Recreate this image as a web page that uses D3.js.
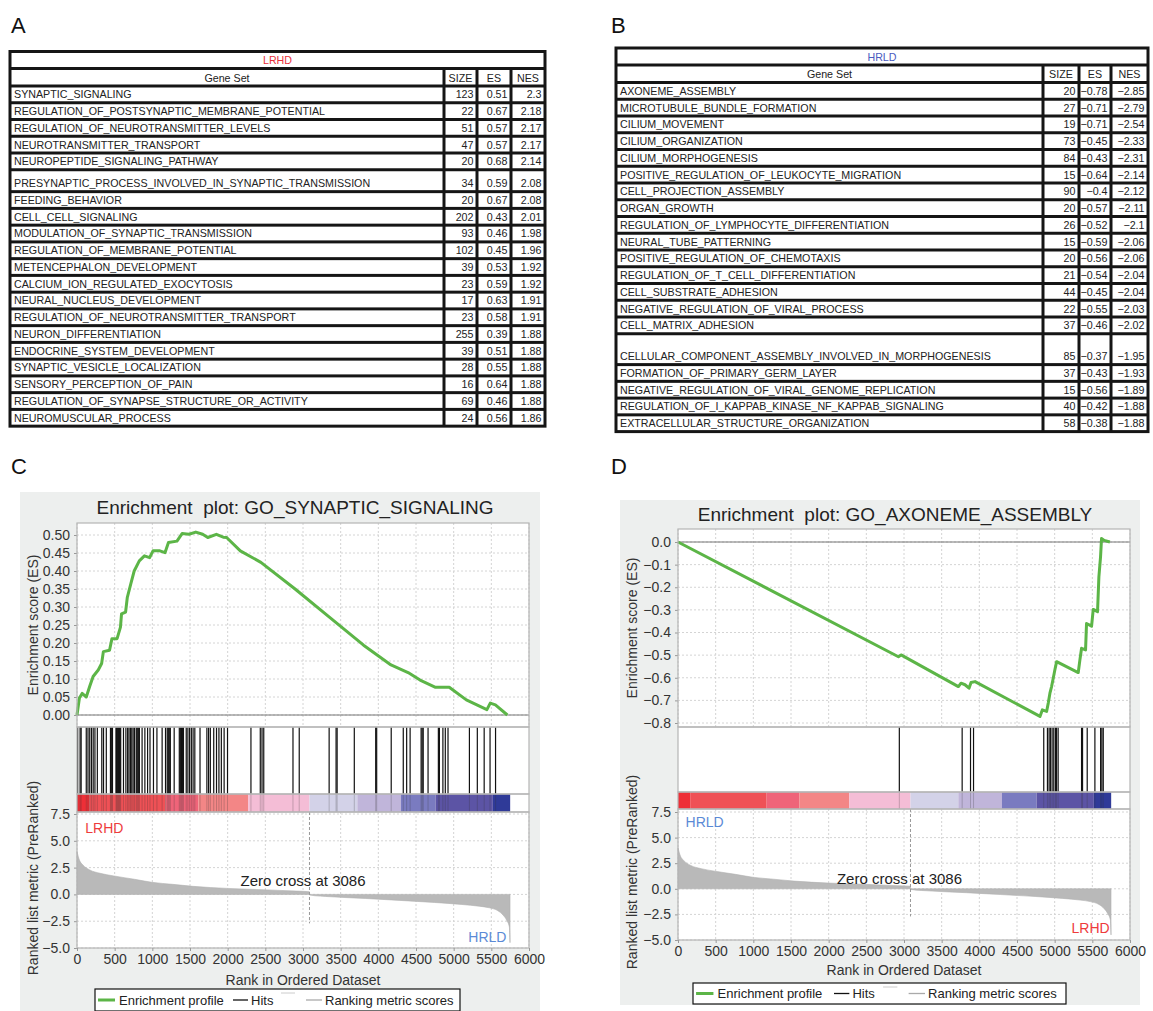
<!DOCTYPE html>
<html>
<head>
<meta charset="utf-8">
<script src="https://cdn.jsdelivr.net/npm/d3@7"></script>
<style>
  body { margin: 0; background: #fff; }
  svg { display: block; font-family: "Liberation Sans", Arial, Helvetica, sans-serif; }
</style>
</head>
<body>
<svg width="1153" height="1011"></svg>
<script>
// ---------- Table A : LRHD ----------
const lrhdSets = [
  "SYNAPTIC_SIGNALING", "REGULATION_OF_POSTSYNAPTIC_MEMBRANE_POTENTIAL",
  "REGULATION_OF_NEUROTRANSMITTER_LEVELS", "NEUROTRANSMITTER_TRANSPORT",
  "NEUROPEPTIDE_SIGNALING_PATHWAY", "PRESYNAPTIC_PROCESS_INVOLVED_IN_SYNAPTIC_TRANSMISSION",
  "FEEDING_BEHAVIOR", "CELL_CELL_SIGNALING", "MODULATION_OF_SYNAPTIC_TRANSMISSION",
  "REGULATION_OF_MEMBRANE_POTENTIAL", "METENCEPHALON_DEVELOPMENT",
  "CALCIUM_ION_REGULATED_EXOCYTOSIS", "NEURAL_NUCLEUS_DEVELOPMENT",
  "REGULATION_OF_NEUROTRANSMITTER_TRANSPORT", "NEURON_DIFFERENTIATION",
  "ENDOCRINE_SYSTEM_DEVELOPMENT", "SYNAPTIC_VESICLE_LOCALIZATION",
  "SENSORY_PERCEPTION_OF_PAIN", "REGULATION_OF_SYNAPSE_STRUCTURE_OR_ACTIVITY",
  "NEUROMUSCULAR_PROCESS"
];
const lrhdSize = [123, 22, 51, 47, 20, 34, 20, 202, 93, 102, 39, 23, 17, 23, 255, 39, 28, 16, 69, 24];
const lrhdES = [0.51, 0.67, 0.57, 0.57, 0.68, 0.59, 0.67, 0.43, 0.46, 0.45, 0.53, 0.59, 0.63, 0.58, 0.39, 0.51, 0.55, 0.64, 0.46, 0.56];
const lrhdNES = [2.3, 2.18, 2.17, 2.17, 2.14, 2.08, 2.08, 2.01, 1.98, 1.96, 1.92, 1.92, 1.91, 1.91, 1.88, 1.88, 1.88, 1.88, 1.88, 1.86];

// ---------- Table B : HRLD ----------
const hrldSets = [
  "AXONEME_ASSEMBLY", "MICROTUBULE_BUNDLE_FORMATION", "CILIUM_MOVEMENT",
  "CILIUM_ORGANIZATION", "CILIUM_MORPHOGENESIS", "POSITIVE_REGULATION_OF_LEUKOCYTE_MIGRATION",
  "CELL_PROJECTION_ASSEMBLY", "ORGAN_GROWTH", "REGULATION_OF_LYMPHOCYTE_DIFFERENTIATION",
  "NEURAL_TUBE_PATTERNING", "POSITIVE_REGULATION_OF_CHEMOTAXIS",
  "REGULATION_OF_T_CELL_DIFFERENTIATION", "CELL_SUBSTRATE_ADHESION",
  "NEGATIVE_REGULATION_OF_VIRAL_PROCESS", "CELL_MATRIX_ADHESION",
  "CELLULAR_COMPONENT_ASSEMBLY_INVOLVED_IN_MORPHOGENESIS", "FORMATION_OF_PRIMARY_GERM_LAYER",
  "NEGATIVE_REGULATION_OF_VIRAL_GENOME_REPLICATION",
  "REGULATION_OF_I_KAPPAB_KINASE_NF_KAPPAB_SIGNALING", "EXTRACELLULAR_STRUCTURE_ORGANIZATION"
];
const hrldSize = [20, 27, 19, 73, 84, 15, 90, 20, 26, 15, 20, 21, 44, 22, 37, 85, 37, 15, 40, 58];
const hrldES = [-0.78, -0.71, -0.71, -0.45, -0.43, -0.64, -0.4, -0.57, -0.52, -0.59, -0.56, -0.54, -0.45, -0.55, -0.46, -0.37, -0.43, -0.56, -0.42, -0.38];
const hrldNES = [-2.85, -2.79, -2.54, -2.33, -2.31, -2.14, -2.12, -2.11, -2.1, -2.06, -2.06, -2.04, -2.04, -2.03, -2.02, -1.95, -1.93, -1.89, -1.88, -1.88];

// ---------- ranked list metric (same list in C and D) ----------
const metricRank  = [0, 32, 78, 169, 306, 489, 764, 992, 1267, 1541, 1998, 2456, 2913, 3085, 3087, 3370, 3828, 4285, 4742, 5108, 5337, 5474, 5588, 5657, 5703, 5739, 5748];
const metricValue = [4.0, 3.2, 2.75, 2.28, 1.97, 1.72, 1.41, 1.13, 0.94, 0.75, 0.56, 0.44, 0.31, 0.25, -0.06, -0.22, -0.38, -0.56, -0.75, -0.94, -1.1, -1.25, -1.53, -1.94, -2.4, -3.03, -4.5];

// colour bar bins along the rank
const barStart = [0, 168, 1177, 1610, 2274, 3086, 3721, 4300, 4760, 5520];
const barEnd   = [168, 1177, 1610, 2274, 3086, 3721, 4300, 4760, 5520, 5750];
const barColor = ["#ee2f37", "#ef5156", "#ef6479", "#f38686", "#f4bdd6", "#d3d2e8", "#c0b5da", "#7a7bc0", "#5c54a5", "#2f3a98"];

// ---------- C : GO_SYNAPTIC_SIGNALING ----------
const synHits = [9, 41, 55, 123, 146, 169, 192, 215, 238, 270, 329, 352, 389, 444, 453, 462, 471,
  517, 526, 535, 544, 553, 562, 571, 580, 617, 649, 672, 690, 709, 727, 745, 764, 787, 800, 814, 828,
  864, 901, 937, 969, 1015, 1061, 1130, 1175, 1198, 1212, 1225, 1239, 1290, 1358, 1372, 1386, 1399, 1413,
  1450, 1472, 1495, 1518, 1541, 1564, 1633, 1724, 1747, 1770, 1815, 1852, 1884, 1916, 1953, 1998,
  2309, 2433, 2456, 2479, 2867, 2950, 3347, 3439, 3453, 3681, 3965, 3978, 4171, 4331, 4376, 4422,
  4568, 4582, 4596, 4660, 4797, 4811, 4857, 4889, 4925, 5209, 5314, 5405, 5483, 5556];
const synRank = [0, 32, 68, 123, 168, 214, 282, 327, 350, 432, 464, 532, 577, 591, 645, 668, 714, 759, 827, 895, 964,
  1009, 1100, 1168, 1214, 1327, 1395, 1486, 1577, 1668, 1736, 1850, 1941, 1986, 2168, 2441, 2895, 3350, 3804,
  4168, 4395, 4554, 4759, 4941, 5168, 5350, 5441, 5486, 5554, 5713];
const synES = [0, 0.047, 0.06, 0.05, 0.079, 0.107, 0.125, 0.143, 0.176, 0.18, 0.212, 0.212, 0.244, 0.281, 0.286, 0.327, 0.364, 0.40, 0.428, 0.442, 0.437,
  0.456, 0.456, 0.451, 0.479, 0.483, 0.504, 0.502, 0.508, 0.502, 0.493, 0.502, 0.494, 0.493, 0.456, 0.424, 0.35, 0.272, 0.194,
  0.139, 0.118, 0.097, 0.077, 0.077, 0.042, 0.024, 0.015, 0.033, 0.028, 0];

// ---------- D : GO_AXONEME_ASSEMBLY ----------
const axoHits = [2938, 3772, 3883, 3923, 4855, 4904, 4926, 4944, 4966, 4988, 5010, 5024, 5046, 5357, 5370, 5432, 5534, 5610, 5627, 5645];
const axoRank = [0, 2926, 2961, 3722, 3757, 3810, 3863, 3890, 3943, 4805, 4836, 4893, 4915, 4937, 4959, 4981, 5003, 5026,
  5313, 5335, 5357, 5410, 5423, 5490, 5512, 5569, 5587, 5609, 5622, 5658, 5733];
const axoES = [0, -0.507, -0.499, -0.639, -0.624, -0.631, -0.646, -0.621, -0.617, -0.771, -0.742, -0.749, -0.712, -0.668, -0.639, -0.602, -0.565, -0.529,
  -0.577, -0.521, -0.47, -0.477, -0.36, -0.372, -0.298, -0.308, -0.154, -0.066, 0.015, 0.007, 0];

// ---------- ticks ----------
const xTicks = [0, 500, 1000, 1500, 2000, 2500, 3000, 3500, 4000, 4500, 5000, 5500, 6000];
const esTicksC = [0, 0.05, 0.1, 0.15, 0.2, 0.25, 0.3, 0.35, 0.4, 0.45, 0.5];
const esTicksD = [0, -0.1, -0.2, -0.3, -0.4, -0.5, -0.6, -0.7, -0.8];
const metricTicks = [-5, -2.5, 0, 2.5, 5, 7.5];

const svg = d3.select("svg");
const red = "#ee3b3b", blue = "#5b8ad6";
const minus = v => String(v).replace("-", "\u2212");

// panel letters
[["A", 11, 33], ["B", 611, 33], ["C", 11, 474], ["D", 611, 474]].forEach(([t, x, y]) => {
  svg.append("text").attr("x", x).attr("y", y).style("font-size", "22px").attr("fill", "#111").text(t);
});

// ---------- tables ----------
function drawTable(o) {
  const g = svg.append("g");
  const colX = [o.x, o.cols[0], o.cols[1], o.cols[2], o.x + o.w];
  const rows = [];
  let y = o.top;
  rows.push({ y, h: 17, kind: "title" }); y += 17;
  rows.push({ y, h: 17.5, kind: "head" }); y += 17.5;
  o.names.forEach((n, i) => {
    const h = i === o.tallRow ? o.tallH : 16.75;
    rows.push({ y, h, kind: "data", i });
    y += h;
  });
  g.append("rect").attr("x", o.x - 1.5).attr("y", o.top - 1.5)
    .attr("width", o.w + 3).attr("height", y - o.top + 3).attr("fill", "#151515");
  const cell = (x0, x1, r) => g.append("rect")
    .attr("x", x0 + 1.5).attr("y", r.y + 1.5)
    .attr("width", x1 - x0 - 3).attr("height", r.h - 3).attr("fill", "#fff");
  const txt = (x, r, s, anchor, color) => g.append("text")
    .attr("x", x).attr("y", r.y + r.h - 4.5).attr("text-anchor", anchor)
    .style("font-size", "10.7px").attr("fill", color || "#222").text(s);

  rows.forEach(r => {
    if (r.kind === "title") {
      cell(o.x, o.x + o.w, r);
      txt(o.x + o.w / 2, r, o.title, "middle", o.titleColor);
      return;
    }
    for (let c = 0; c < 4; c++) cell(colX[c], colX[c + 1], r);
    if (r.kind === "head") {
      ["Gene Set", "SIZE", "ES", "NES"].forEach((s, c) => txt((colX[c] + colX[c + 1]) / 2, r, s, "middle"));
    } else {
      txt(colX[0] + 4, r, o.names[r.i], "start");
      txt(colX[2] - 3.5, r, o.size[r.i], "end");
      txt(colX[3] - 3.5, r, minus(o.es[r.i]), "end");
      txt(colX[4] - 3.5, r, minus(o.nes[r.i]), "end");
    }
  });
}

drawTable({ x: 10, w: 535, top: 51.5, cols: [444, 477, 511], title: "LRHD", titleColor: "#e8303a",
  names: lrhdSets, size: lrhdSize, es: lrhdES, nes: lrhdNES, tallRow: 5, tallH: 21.9 });
drawTable({ x: 616, w: 532, top: 48, cols: [1043, 1079, 1111], title: "HRLD", titleColor: "#4a5ac0",
  names: hrldSets, size: hrldSize, es: hrldES, nes: hrldNES, tallRow: 15, tallH: 30.85 });

// ---------- GSEA enrichment plots ----------
function drawGsea(p) {
  const g = svg.append("g");
  g.append("rect").attr("x", p.bg[0]).attr("y", p.bg[1]).attr("width", p.bg[2]).attr("height", p.bg[3]).attr("fill", "#edefee");

  g.append("text").attr("x", p.titleX).attr("y", p.titleY).attr("text-anchor", "middle")
    .style("font-size", "19px").style("white-space", "pre").attr("fill", "#222").text(p.title);

  const x = d3.scaleLinear().domain([0, 6000]).range([p.x0, p.x1]);
  const yEs = d3.scaleLinear().domain(p.esDom).range(p.esRange);
  const yMet = d3.scaleLinear().domain([-5, 7.5]).range(p.metRange);
  const w = p.x1 - p.x0;

  // white plot areas
  g.append("rect").attr("x", p.x0).attr("y", p.esTop).attr("width", w).attr("height", p.metBottom - p.esTop).attr("fill", "#fff");

  const grid = "#d4d4d4";
  // ES grid
  const esG = g.append("g");
  xTicks.forEach(t => esG.append("line").attr("x1", x(t)).attr("x2", x(t)).attr("y1", p.esTop).attr("y2", p.esBottom)
    .attr("stroke", grid).attr("stroke-dasharray", "2,2"));
  p.esTicks.forEach(t => esG.append("line").attr("x1", p.x0).attr("x2", p.x1).attr("y1", yEs(t)).attr("y2", yEs(t))
    .attr("stroke", grid).attr("stroke-dasharray", "2,2"));
  // zero line
  g.append("line").attr("x1", p.x0).attr("x2", p.x1).attr("y1", yEs(0)).attr("y2", yEs(0)).attr("stroke", "#777").attr("stroke-width", 1);

  // ES axis
  g.append("g").attr("transform", `translate(${p.x0},0)`)
    .call(d3.axisLeft(yEs).tickValues(p.esTicks).tickFormat(d3.format(p.esFmt)).tickSize(3).tickPadding(4))
    .call(a => a.select(".domain").remove())
    .call(a => a.selectAll("text").style("font-size", "14px").attr("fill", "#333").style("font-family", "inherit"))
    .call(a => a.selectAll("line").attr("stroke", "#999"));

  // ES line
  const esPts = p.esRank.map((r, i) => [r, p.esVal[i]]);
  g.append("path").datum(esPts)
    .attr("d", d3.line().x(d => x(d[0])).y(d => yEs(d[1])))
    .attr("fill", "none").attr("stroke", "#5cb547").attr("stroke-width", 3).attr("stroke-linejoin", "round");

  // metric grid
  xTicks.forEach(t => g.append("line").attr("x1", x(t)).attr("x2", x(t)).attr("y1", p.barBottom).attr("y2", p.metBottom)
    .attr("stroke", grid).attr("stroke-dasharray", "2,2"));
  metricTicks.forEach(t => g.append("line").attr("x1", p.x0).attr("x2", p.x1).attr("y1", yMet(t)).attr("y2", yMet(t))
    .attr("stroke", grid).attr("stroke-dasharray", "2,2"));

  // metric area
  const metPts = metricRank.map((r, i) => [r, metricValue[i]]);
  g.append("path").datum(metPts)
    .attr("d", d3.area().x(d => x(d[0])).y0(yMet(0)).y1(d => yMet(d[1])).curve(d3.curveMonotoneX))
    .attr("fill", "#b9b9b9").attr("stroke", "#b0b0b0").attr("stroke-width", 0.6);

  // zero cross
  g.append("line").attr("x1", x(3086)).attr("x2", x(3086)).attr("y1", p.barBottom).attr("y2", yMet(-2.7))
    .attr("stroke", "#999").attr("stroke-dasharray", "3,2");
  g.append("text").attr("x", x(p.zeroTextRank)).attr("y", yMet(p.zeroTextVal)).attr("dy", "0.35em")
    .attr("text-anchor", "middle").style("font-size", "15px").attr("fill", "#222").text("Zero cross at 3086");

  // side labels
  g.append("text").attr("x", x(p.topLabel.rank)).attr("y", yMet(p.topLabel.val)).attr("dy", "0.35em")
    .style("font-size", "14px").attr("fill", p.topLabel.color).text(p.topLabel.text);
  g.append("text").attr("x", x(p.botLabel.rank)).attr("y", yMet(p.botLabel.val)).attr("dy", "0.35em")
    .attr("text-anchor", "end").style("font-size", "14px").attr("fill", p.botLabel.color).text(p.botLabel.text);

  // metric axis
  g.append("g").attr("transform", `translate(${p.x0},0)`)
    .call(d3.axisLeft(yMet).tickValues(metricTicks).tickFormat(d3.format(".1f")).tickSize(3).tickPadding(4))
    .call(a => a.select(".domain").remove())
    .call(a => a.selectAll("text").style("font-size", "14px").attr("fill", "#333").style("font-family", "inherit"))
    .call(a => a.selectAll("line").attr("stroke", "#999"));

  // hits panel
  g.append("rect").attr("x", p.x0).attr("y", p.esBottom).attr("width", w).attr("height", p.barTop - p.esBottom).attr("fill", "#fff");
  // colour bar
  barStart.forEach((s, i) => g.append("rect").attr("x", x(s)).attr("y", p.barTop)
    .attr("width", x(barEnd[i]) - x(s)).attr("height", p.barBottom - p.barTop).attr("fill", barColor[i]));
  p.hits.forEach(h => {
    g.append("line").attr("x1", x(h)).attr("x2", x(h)).attr("y1", p.esBottom).attr("y2", p.barTop)
      .attr("stroke", "#111").attr("stroke-width", 1.2);
    g.append("line").attr("x1", x(h)).attr("x2", x(h)).attr("y1", p.barTop).attr("y2", p.barBottom)
      .attr("stroke", "#333").attr("stroke-opacity", 0.25).attr("stroke-width", 1);
  });

  // borders
  [[p.esTop, p.esBottom], [p.esBottom, p.barTop], [p.barTop, p.barBottom], [p.barBottom, p.metBottom]].forEach(([a, b]) =>
    g.append("rect").attr("x", p.x0).attr("y", a).attr("width", w).attr("height", b - a)
      .attr("fill", "none").attr("stroke", "#b5b5b5").attr("stroke-width", 1.2));

  // x axis
  g.append("g").attr("transform", `translate(0,${p.metBottom})`)
    .call(d3.axisBottom(x).tickValues(xTicks).tickFormat(d3.format("d")).tickSize(3).tickPadding(3))
    .call(a => a.select(".domain").remove())
    .call(a => a.selectAll("text").style("font-size", "14px").attr("fill", "#333").style("font-family", "inherit"))
    .call(a => a.selectAll("line").attr("stroke", "#999"));

  g.append("text").attr("x", (p.x0 + p.x1) / 2).attr("y", p.xTitleY).attr("text-anchor", "middle")
    .style("font-size", "14px").attr("fill", "#333").text("Rank in Ordered Dataset");

  // y titles
  g.append("text").attr("transform", `translate(${p.yTitleX},${(p.esTop + p.esBottom) / 2}) rotate(-90)`)
    .attr("text-anchor", "middle").attr("dy", "0.35em").style("font-size", "14px").attr("fill", "#333").text("Enrichment score (ES)");
  g.append("text").attr("transform", `translate(${p.yTitleX},${p.metTitleY}) rotate(-90)`)
    .attr("text-anchor", "middle").attr("dy", "0.35em").style("font-size", "14px").attr("fill", "#333").text("Ranked list metric (PreRanked)");

  // legend
  const L = p.legend;
  const lg = g.append("g").attr("transform", `translate(${L.x},${L.y})`);
  const k = L.w / 365;
  lg.append("rect").attr("width", L.w).attr("height", L.h).attr("fill", "#fff").attr("stroke", "#111").attr("stroke-width", 1.2);
  const my = L.h / 2;
  const fs = "13px";
  lg.append("line").attr("x1", 3 * k).attr("x2", 20 * k).attr("y1", my).attr("y2", my).attr("stroke", "#5cb547").attr("stroke-width", 3);
  lg.append("text").attr("x", 24 * k).attr("y", my).attr("dy", "0.35em").style("font-size", fs).attr("fill", "#222").text("Enrichment profile");
  lg.append("line").attr("x1", 138 * k).attr("x2", 153 * k).attr("y1", my).attr("y2", my).attr("stroke", "#111").attr("stroke-width", 1.3);
  lg.append("text").attr("x", 156 * k).attr("y", my).attr("dy", "0.35em").style("font-size", fs).attr("fill", "#222").text("Hits");
  lg.append("line").attr("x1", 186 * k).attr("x2", 200 * k).attr("y1", 4).attr("y2", 4).attr("stroke", "#ccc").attr("stroke-width", 1);
  lg.append("line").attr("x1", 211 * k).attr("x2", 227 * k).attr("y1", my).attr("y2", my).attr("stroke", "#aaa").attr("stroke-width", 1.3);
  lg.append("text").attr("x", 230 * k).attr("y", my).attr("dy", "0.35em").style("font-size", fs).attr("fill", "#222").text("Ranking metric scores");
}

drawGsea({
  bg: [20, 492, 520, 519], title: "Enrichment  plot: GO_SYNAPTIC_SIGNALING", titleX: 295, titleY: 514,
  x0: 77, x1: 529, esTop: 523, esBottom: 727, esDom: [0, 0.5], esRange: [715, 535], esTicks: esTicksC, esFmt: ".2f",
  barTop: 794, barBottom: 812, metBottom: 948, metRange: [948, 814],
  esRank: synRank, esVal: synES, hits: synHits,
  zeroTextRank: 3000, zeroTextVal: 1.3,
  topLabel: { text: "LRHD", color: red, rank: 110, val: 6.2 },
  botLabel: { text: "HRLD", color: blue, rank: 5700, val: -4.0 },
  xTitleY: 985, yTitleX: 33, metTitleY: 878,
  legend: { x: 95, y: 989, w: 365, h: 22 }
});

drawGsea({
  bg: [620, 500, 520, 505], title: "Enrichment  plot: GO_AXONEME_ASSEMBLY", titleX: 895, titleY: 521,
  x0: 678, x1: 1130, esTop: 529, esBottom: 727, esDom: [-0.8, 0], esRange: [723, 542], esTicks: esTicksD, esFmt: ".1f",
  barTop: 792, barBottom: 809, metBottom: 940, metRange: [940, 812],
  esRank: axoRank, esVal: axoES, hits: axoHits,
  zeroTextRank: 2940, zeroTextVal: 0.95,
  topLabel: { text: "HRLD", color: blue, rank: 100, val: 6.5 },
  botLabel: { text: "LRHD", color: red, rank: 5730, val: -3.8 },
  xTitleY: 975, yTitleX: 632, metTitleY: 872,
  legend: { x: 693, y: 983, w: 373, h: 21 }
});
</script>
</body>
</html>
